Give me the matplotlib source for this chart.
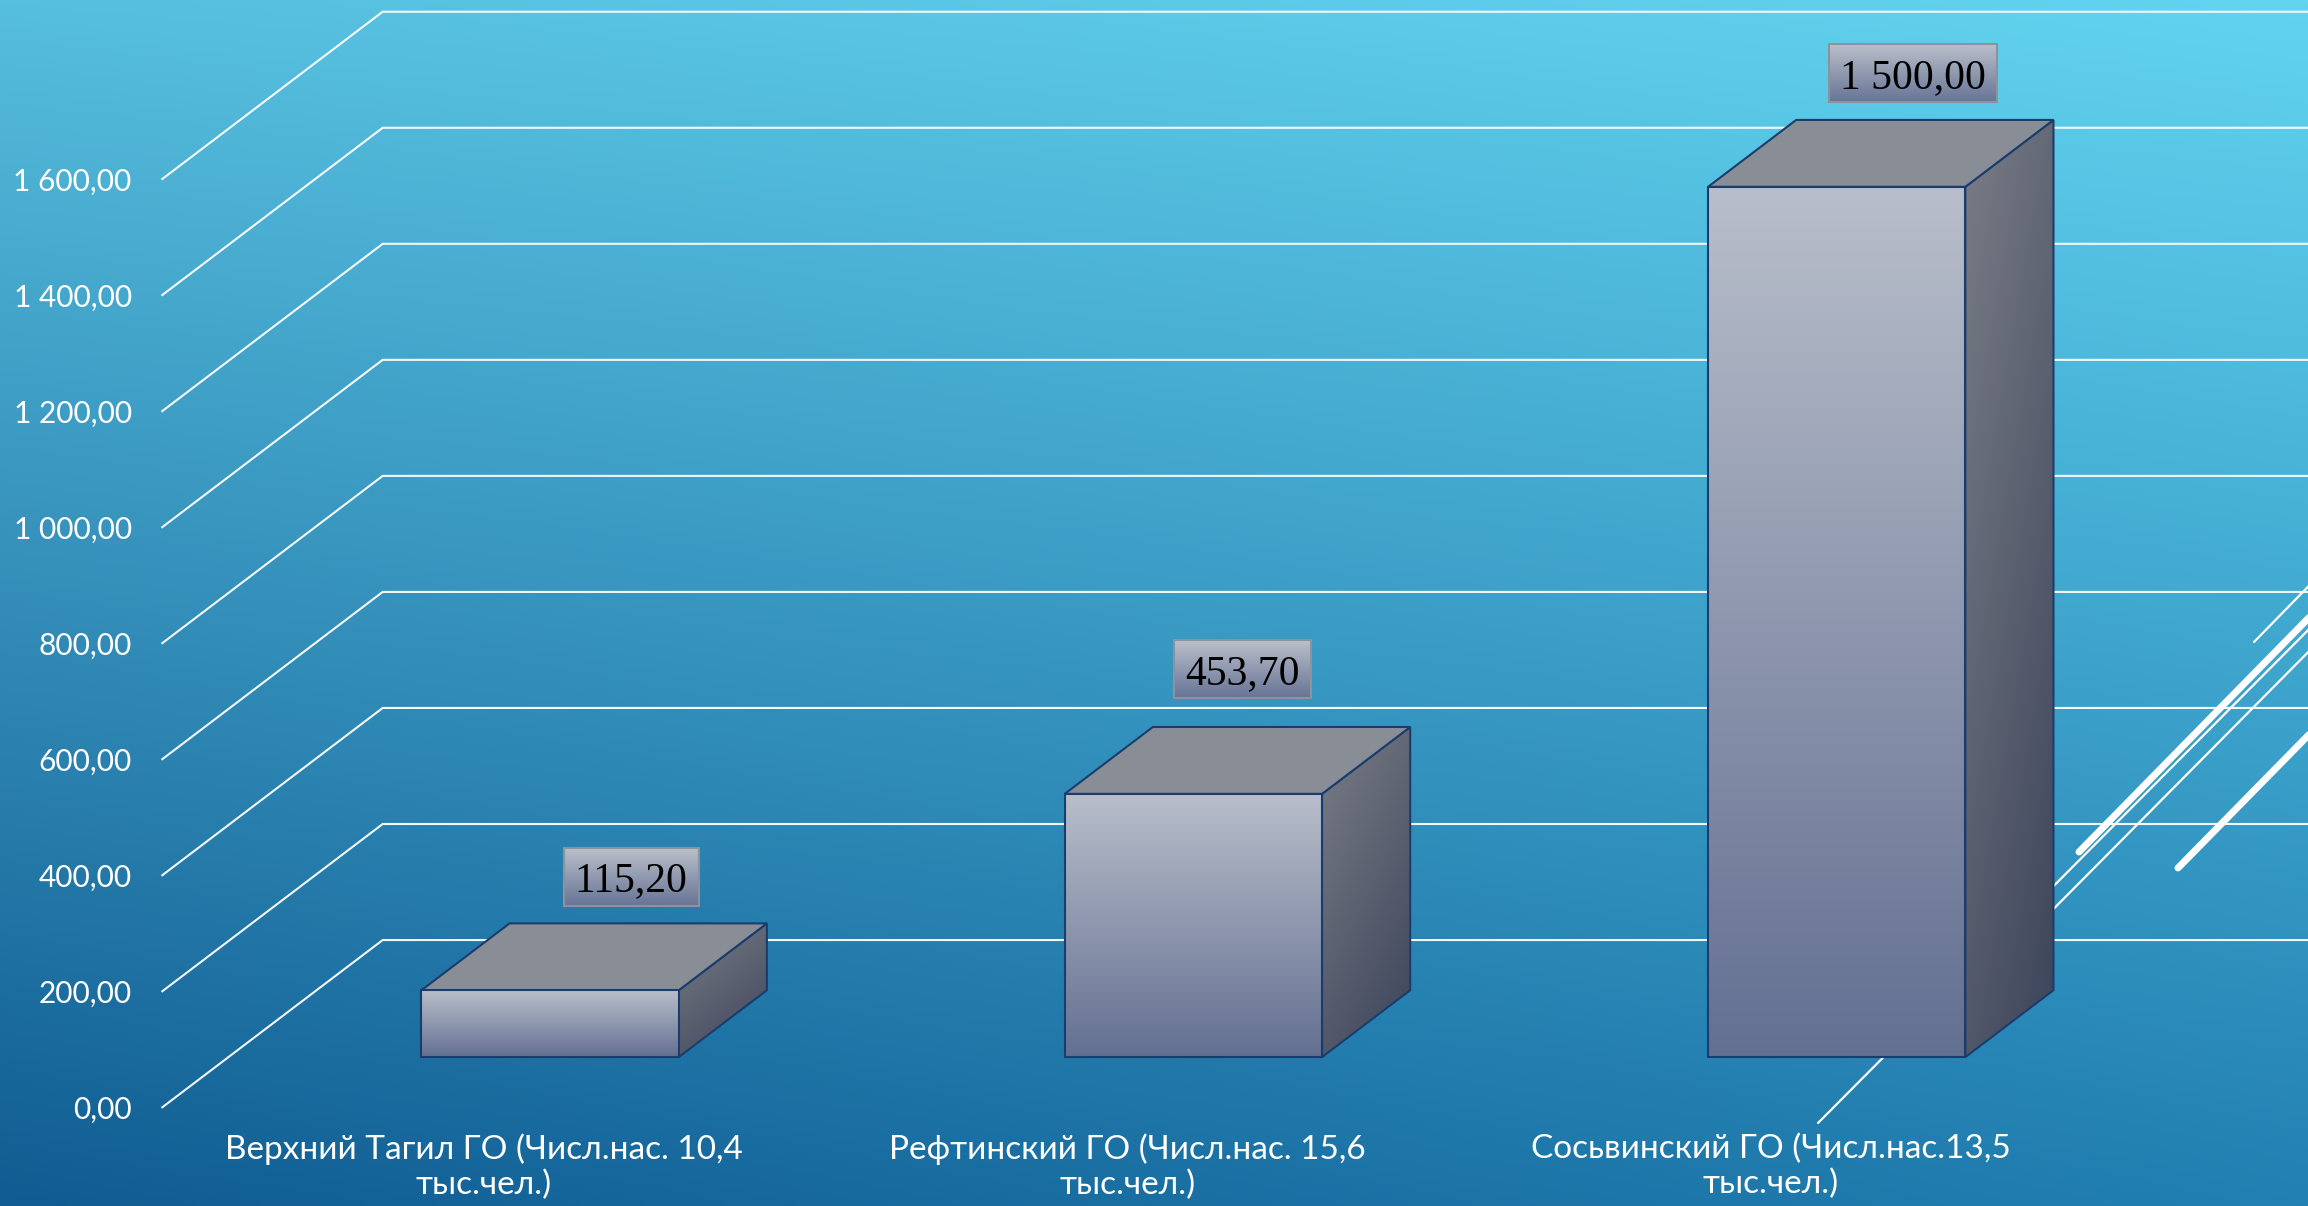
import numpy as np
import matplotlib
matplotlib.use("Agg")
import matplotlib.pyplot as plt
from matplotlib.patches import Polygon, Rectangle

# ---------------- data ----------------
categories = [
    "Верхний Тагил ГО (Числ.нас. 10,4\nтыс.чел.)",
    "Рефтинский ГО (Числ.нас. 15,6\nтыс.чел.)",
    "Сосьвинский ГО (Числ.нас.13,5\nтыс.чел.)",
]
values = [115.2, 453.7, 1500.0]
value_labels = ["115,20", "453,70", "1 500,00"]
y_ticks = [0, 200, 400, 600, 800, 1000, 1200, 1400, 1600]
y_tick_labels = ["0,00", "200,00", "400,00", "600,00", "800,00",
                 "1 000,00", "1 200,00", "1 400,00", "1 600,00"]

# ---------------- layout / style ----------------
W, H, DPI = 2308, 1206, 100
# pixel anchors of the plot frame (front floor): left/bottom and right/top
PX_L, PX_R = 162.3, 2092.2
PY_B, PY_T = 1107.3, 179.0          # from top of image
N_CAT, Y_MAX = 3, 1600
DX, DY = 0.3426, 288.3          # depth vector in (category, value) units
D_FRONT, D_BACK = 0.3, 0.7      # bar depth range
HALF = 0.2                      # half bar width (category units)
label_dx_px = [37, 5, 32]
label_dy_px = [80, 91, 80]

FONT = ["Lato", "DejaVu Sans"]
plt.rcParams["font.family"] = FONT

fig = plt.figure(figsize=(W / DPI, H / DPI), dpi=DPI)

# background gradient
bg = fig.add_axes([0, 0, 1, 1], zorder=0)
bg.set_xlim(0, W)
bg.set_ylim(H, 0)
bg.axis("off")
TL = np.array([86, 190, 222]) / 255
TR = np.array([98, 212, 240]) / 255
BL = np.array([16, 92, 146]) / 255
BR = np.array([34, 128, 178]) / 255
X, Y = np.meshgrid(np.linspace(0, 1, 300), np.linspace(0, 1, 200))
X = X[..., None]
Y = Y[..., None]
img = TL * (1 - X) * (1 - Y) + TR * X * (1 - Y) + BL * (1 - X) * Y + BR * X * Y
bg.imshow(np.clip(img, 0, 1), extent=(0, W, H, 0), aspect="auto", interpolation="bilinear")

# decorative slide lines (background design)
deco = [((2079, 852), (2340, 586), 5.0),
        ((1818, 1123), (2340, 598), 1.6),
        ((1990, 973), (2340, 620), 1.6),
        ((2178, 868), (2340, 703), 5.0),
        ((2254, 642), (2340, 554), 1.6)]
for (x0, y0), (x1, y1), lw in deco:
    bg.plot([x0, x1], [y0, y1], color="white", lw=lw, solid_capstyle="round")

# main chart axes covering the whole figure; limits chosen so the plot frame
# lands on the pixel anchors above
ax = fig.add_axes([0, 0, 1, 1], zorder=1)
ax.patch.set_alpha(0)
ax.axis("off")
sx = (PX_R - PX_L) / N_CAT            # px per category
sy = (PY_B - PY_T) / Y_MAX            # px per value unit
ax.set_xlim(-PX_L / sx, N_CAT + (W - PX_R) / sx)
ax.set_ylim(-(H - PY_B) / sy, Y_MAX + PY_T / sy)
XLIM, YLIM = ax.get_xlim(), ax.get_ylim()

# walls: side diagonals + back wall gridlines
for v in y_ticks:
    ax.plot([0, DX, XLIM[1] + 0.1], [v, v + DY, v + DY], color="white", lw=1.5,
            alpha=0.95, zorder=1, solid_joinstyle="miter")

EDGE = "#1b3d6d"


def grad_face(verts, c0, c1, z, diag=0.0):
    verts = np.asarray(verts)
    poly = Polygon(verts, closed=True, facecolor="none", edgecolor=EDGE,
                   lw=1.5, zorder=z + 0.1, joinstyle="miter")
    ax.add_patch(poly)
    xs = np.linspace(0, 1, 60)[None, :, None]
    ys = np.linspace(0, 1, 200)[:, None, None]
    t = np.clip((1 - diag) * ys + diag * xs, 0, 1)
    arr = np.array(c0) / 255 * (1 - t) + np.array(c1) / 255 * t
    im = ax.imshow(arr, extent=(verts[:, 0].min(), verts[:, 0].max(),
                                verts[:, 1].min(), verts[:, 1].max()),
                   origin="upper", aspect="auto", interpolation="bilinear",
                   zorder=z)
    im.set_clip_path(poly)


centers = [i + 0.5 for i in range(len(values))]
for i, (c, v) in enumerate(zip(centers, values)):
    z = 3 + i
    xl, xr = c - HALF, c + HALF
    fx, fy = D_FRONT * DX, D_FRONT * DY
    bx, by = D_BACK * DX, D_BACK * DY
    front = [(xl + fx, fy), (xr + fx, fy), (xr + fx, v + fy), (xl + fx, v + fy)]
    top = [(xl + fx, v + fy), (xr + fx, v + fy), (xr + bx, v + by), (xl + bx, v + by)]
    side = [(xr + fx, fy), (xr + bx, by), (xr + bx, v + by), (xr + fx, v + fy)]
    grad_face(side, (122, 125, 134), (60, 68, 90), z, diag=0.35)
    ax.add_patch(Polygon(top, closed=True, facecolor="#898d96", edgecolor=EDGE,
                         lw=1.5, zorder=z + 0.2, joinstyle="miter"))
    grad_face(front, (184, 190, 202), (100, 112, 146), z + 0.3)

ax.set_xlim(*XLIM)
ax.set_ylim(*YLIM)

# value-axis labels
for v, lab in zip(y_ticks, y_tick_labels):
    ax.annotate(lab, (0, v), xytext=(-22, 0), textcoords="offset points",
                ha="right", va="center_baseline", fontsize=21.5, color="white")

# category labels
for c, lab in zip(centers, categories):
    ax.annotate(lab, (c, 0), xytext=(0, -19), textcoords="offset points",
                ha="center", va="top", multialignment="center",
                fontsize=24, color="white", linespacing=1.2,
                annotation_clip=False)

# data labels
fig.canvas.draw()
renderer = fig.canvas.get_renderer()
inv = ax.transData.inverted()
for i, (c, v, s) in enumerate(zip(centers, values, value_labels)):
    ax_, ay_ = ax.transData.transform((c + 0.5 * DX, v + 0.5 * DY))
    cx, cy = ax_ + label_dx_px[i], ay_ + label_dy_px[i]
    tx, ty = inv.transform((cx, cy - 14.5))
    t = ax.text(tx, ty, s, ha="center", va="baseline", fontsize=30,
                family=["Liberation Serif", "DejaVu Serif"], color="black",
                zorder=20)
    bb = t.get_window_extent(renderer)
    bw, bh = bb.width + 22, 58
    x0, y0 = inv.transform((cx - bw / 2, cy - bh / 2))
    x1, y1 = inv.transform((cx + bw / 2, cy + bh / 2))
    arr = np.linspace(0, 1, 100)[:, None, None]
    grad = np.array([186, 191, 201]) / 255 * (1 - arr) + np.array([103, 116, 150]) / 255 * arr
    ax.imshow(grad, extent=(x0, x1, y0, y1), origin="upper", aspect="auto",
              interpolation="bilinear", zorder=18)
    ax.add_patch(Rectangle((x0, y0), x1 - x0, y1 - y0, facecolor="none",
                           edgecolor="#8e929c", lw=1.5, zorder=19))

ax.set_xlim(*XLIM)
ax.set_ylim(*YLIM)

fig.savefig("out.png", dpi=DPI)
